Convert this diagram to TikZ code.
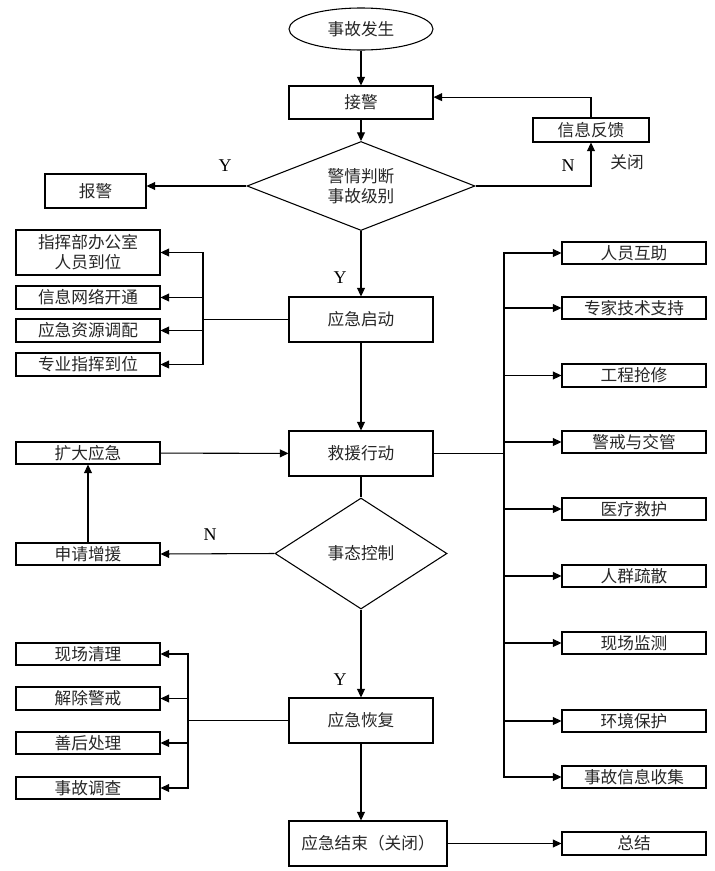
\documentclass[tikz,border=0pt]{standalone}
\usepackage{fontspec}
\setmainfont{Liberation Serif}
\newfontfamily\cjk{Noto Sans CJK SC}
\usetikzlibrary{shapes.geometric,arrows.meta}
\begin{document}
\begin{tikzpicture}[x=0.75pt,y=-0.75pt,line width=0.8pt,
  every node/.style={font=\cjk\fontsize{12.5}{15}\selectfont, text=black!85},
  box/.style={draw, inner sep=0pt, align=center},
  bx/.style 2 args={box, minimum width=#1*0.75pt, minimum height=#2*0.75pt},
  dia/.style={draw, diamond, inner sep=0pt, align=center},
  lab/.style={font=\fontsize{13.5}{15}\selectfont, text=black},
  arr/.style={-{Triangle[length=6.5pt,width=6pt]}}]
\useasboundingbox (0,0) rectangle (714,871);
% main column
\node[draw, ellipse, inner sep=0pt, minimum width=144*0.75pt, minimum height=42*0.75pt] (e) at (361,29) {事故发生};
\node[bx={144}{33}] (jj) at (361,102.5) {接警};
\node[dia, aspect=2.56, minimum width=228*0.75pt, minimum height=89*0.75pt] (d1) at (361,186) {警情判断\\事故级别};
\node[bx={101}{34}] (bj) at (95.5,191) {报警};
\node[bx={116}{24}] (fk) at (591,130) {信息反馈};
\node[bx={144}{45}] (qd) at (361,319.5) {应急启动};
\node[bx={144}{45}] (jy) at (361,453.5) {救援行动};
\node[dia, aspect=1.55, minimum width=172*0.75pt, minimum height=111*0.75pt] (d2) at (361,553.5) {事态控制};
\node[bx={144}{45}] (hf) at (361,720.5) {应急恢复};
\node[bx={158}{45}] (js) at (368,843.5) {应急结束（关闭）};
% left boxes (start)
\node[bx={144}{45}] (l1) at (88,252.5) {指挥部办公室\\人员到位};
\node[bx={144}{23}] (l2) at (88,297.5) {信息网络开通};
\node[bx={144}{23}] (l3) at (88,330.5) {应急资源调配};
\node[bx={144}{23}] (l4) at (88,364.5) {专业指挥到位};
% left boxes (rescue)
\node[bx={144}{22}] (kd) at (88,453) {扩大应急};
\node[bx={144}{22}] (sq) at (88,554) {申请增援};
% left boxes (recovery)
\node[bx={144}{22}] (m1) at (88,654) {现场清理};
\node[bx={144}{23}] (m2) at (88,698.5) {解除警戒};
\node[bx={144}{22}] (m3) at (88,743) {善后处理};
\node[bx={144}{22}] (m4) at (88,788) {事故调查};
% right boxes
\node[bx={144}{22}] (r1) at (634,253) {人员互助};
\node[bx={144}{22}] (r2) at (634,308) {专家技术支持};
\node[bx={144}{23}] (r3) at (634,375.5) {工程抢修};
\node[bx={144}{22}] (r4) at (634,442) {警戒与交管};
\node[bx={144}{22}] (r5) at (634,509) {医疗救护};
\node[bx={144}{22}] (r6) at (634,576) {人群疏散};
\node[bx={144}{22}] (r7) at (634,643) {现场监测};
\node[bx={144}{22}] (r8) at (634,721) {环境保护};
\node[bx={144}{22}] (r9) at (634,777) {事故信息收集};
\node[bx={144}{23}] (zj) at (634,843.5) {总结};
% labels
\node[lab] (y1) at (225,166) {Y};
\node[lab] (n1) at (568,166) {N};
\node (gb) at (627,162) {关闭};
\node[lab] (y2) at (340,278) {Y};
\node[lab] (n2) at (210,535) {N};
\node[lab] (y3) at (340,680) {Y};
% connectors
\draw[arr] (e) -- (jj);
\draw[arr] (jj) -- (d1);
\draw[arr] (d1.west) -- (d1.west -| bj.east);
\draw[arr] (d1.east) -| (fk.south);
\draw[arr] (fk.north) |- ([yshift=4pt]jj.east);
\draw[arr] (d1.south) -- (qd.north);
\coordinate (bL1) at (203,319.5);
\draw (qd.west) -- (bL1);
\foreach \n in {l1,l2,l3,l4} \draw[arr] (bL1) |- (\n);
\draw[arr] (qd) -- (jy);
\draw[arr] (kd) -- (jy);
\draw (jy.south) -- (d2.north);
\draw[arr] (d2.west) -- (sq.east);
\draw[arr] (sq) -- (kd);
\coordinate (bR) at (504,453.5);
\draw (jy.east) -- (bR);
\foreach \n in {r1,r2,r3,r4,r5,r6,r7,r8,r9} \draw[arr] (bR) |- (\n);
\draw[arr] (d2.south) -- (hf.north);
\coordinate (bL2) at (188,720.5);
\draw (hf.west) -- (bL2);
\foreach \n in {m1,m2,m3,m4} \draw[arr] (bL2) |- (\n);
\draw[arr] (hf.south) -- (hf.south |- js.north);
\draw[arr] (js) -- (zj);
\end{tikzpicture}
\end{document}
